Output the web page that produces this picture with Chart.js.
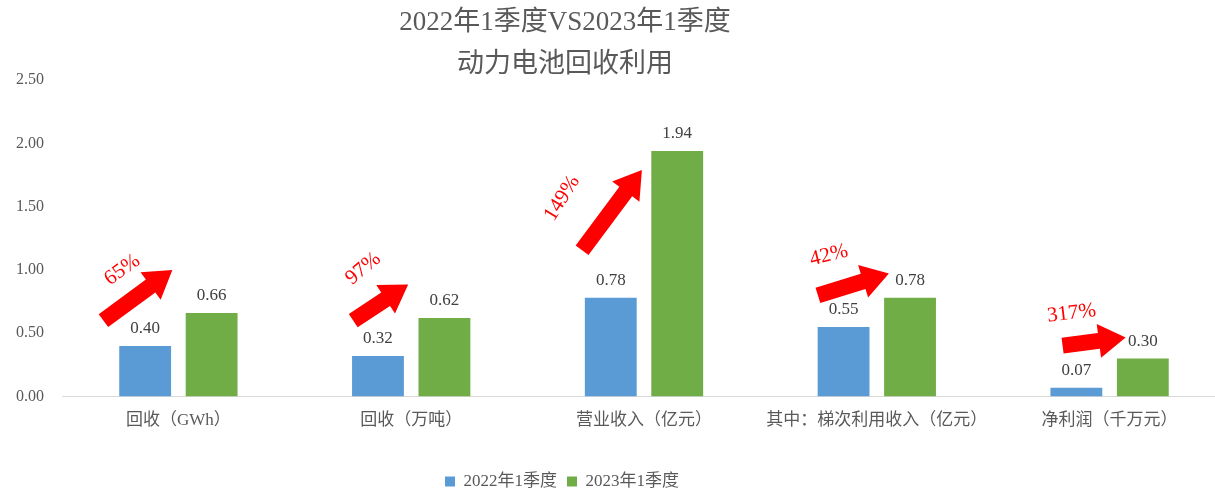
<!DOCTYPE html>
<html>
<head>
<meta charset="utf-8">
<script src="https://cdn.jsdelivr.net/npm/chart.js@4"></script>
<style>
  html, body { margin: 0; padding: 0; background: #fff; overflow: hidden; }
  /* 元の図は右端が少し切れているので、キャンバスを少し広げて切り取る */
  #wrap { width: 1226px; height: 488px; }
</style>
</head>
<body>
<div id="wrap"><canvas id="recycleChart"></canvas></div>
<script>
// データ
const categories = ['回收（GWh）', '回收（万吨）', '营业收入（亿元）', '其中：梯次利用收入（亿元）', '净利润（千万元）'];
const q1_2022 = [0.40, 0.32, 0.78, 0.55, 0.07];
const q1_2023 = [0.66, 0.62, 1.94, 0.78, 0.30];
const growthLabels = ['65%', '97%', '149%', '42%', '317%'];
const yMin = 0, yMax = 2.5, yStep = 0.5;

// 矢印の位置（カテゴリ幅に対するオフセット, 値）
const arrowFrom = [[-0.322, 0.60], [-0.249, 0.60], [-0.266, 1.155], [-0.253, 0.80], [-0.202, 0.403]];
const arrowTo = [[-0.026, 1.00], [-0.013, 0.886], [-0.009, 1.79], [0.052, 0.973], [0.069, 0.467]];
const growthPos = [[-0.241, 1.00], [-0.206, 1.01], [-0.352, 1.566], [-0.206, 1.115], [-0.163, 0.657]];
const growthAngle = [-36, -40, -58, -14, -7];

const serif = '"Liberation Serif", "Noto Sans CJK SC", serif';
const textGray = '#595959';

// タイトル
const titlePlugin = {
  id: 'titleText',
  afterDraw(chart) {
    const c = chart.ctx;
    c.save();
    c.fillStyle = textGray;
    c.textAlign = 'center';
    c.textBaseline = 'middle';
    c.font = '27px ' + serif;
    c.fillText('2022年1季度VS2023年1季度', 565, 23);
    c.fillText('动力电池回收利用', 565, 65);
    c.restore();
  }
};

// 凡例を少し左へ寄せる
const legendShift = {
  id: 'legendShift',
  afterLayout(chart) {
    chart.legend.left -= 54;
    chart.legend.right -= 54;
  }
};

// 棒の上の数値ラベル
const valueLabelPlugin = {
  id: 'valueLabels',
  afterDatasetsDraw(chart) {
    const c = chart.ctx;
    c.save();
    c.fillStyle = '#404040';
    c.textAlign = 'center';
    c.textBaseline = 'bottom';
    c.font = '17px ' + serif;
    chart.data.datasets.forEach((ds, i) => {
      chart.getDatasetMeta(i).data.forEach((bar, j) => {
        c.fillText(ds.data[j].toFixed(2), bar.x, bar.y - 9);
      });
    });
    c.restore();
  }
};

// 赤い矢印と伸び率
const arrowPlugin = {
  id: 'growthArrows',
  afterDatasetsDraw(chart) {
    const c = chart.ctx;
    const xs = chart.scales.x, ys = chart.scales.y;
    const catW = xs.getPixelForValue(1) - xs.getPixelForValue(0);
    const px = (i, p) => [xs.getPixelForValue(i) + p[0] * catW, ys.getPixelForValue(p[1])];
    c.save();
    c.fillStyle = '#ff0000';
    growthLabels.forEach((lbl, i) => {
      const [x0, y0] = px(i, arrowFrom[i]);
      const [x1, y1] = px(i, arrowTo[i]);
      const ang = Math.atan2(y1 - y0, x1 - x0);
      const len = Math.hypot(x1 - x0, y1 - y0);
      const shaft = 8, head = 17, headLen = 27;
      c.save();
      c.translate(x0, y0);
      c.rotate(ang);
      c.beginPath();
      c.moveTo(0, -shaft);
      c.lineTo(len - headLen, -shaft);
      c.lineTo(len - headLen, -head);
      c.lineTo(len, 0);
      c.lineTo(len - headLen, head);
      c.lineTo(len - headLen, shaft);
      c.lineTo(0, shaft);
      c.closePath();
      c.fill();
      c.restore();

      // 伸び率ラベル
      const [lx, ly] = px(i, growthPos[i]);
      c.save();
      c.translate(lx, ly);
      c.rotate(growthAngle[i] * Math.PI / 180);
      c.font = '21px ' + serif;
      c.textAlign = 'center';
      c.textBaseline = 'middle';
      c.fillText(lbl, 0, 0);
      c.restore();
    });
    c.restore();
  }
};

const ctx = document.getElementById('recycleChart');
const recycleChart = new Chart(ctx, {
  type: 'bar',
  data: {
    labels: categories,
    datasets: [{
      label: '2022年1季度',
      data: q1_2022,
      backgroundColor: '#5b9bd5',
      categoryPercentage: 0.571,
      barPercentage: 0.78
    }, {
      label: '2023年1季度',
      data: q1_2023,
      backgroundColor: '#70ad47',
      categoryPercentage: 0.571,
      barPercentage: 0.78
    }]
  },
  options: {
    responsive: true,
    maintainAspectRatio: false,
    animation: false,
    layout: {
      padding: { top: 80, left: 6, right: 0, bottom: -12 }
    },
    plugins: {
      title: { display: false },
      tooltip: { enabled: false },
      legend: {
        position: 'bottom',
        labels: {
          boxWidth: 10,
          boxHeight: 10,
          color: textGray,
          padding: 10,
          font: { family: serif, size: 17 }
        }
      }
    },
    scales: {
      x: {
        grid: { display: false },
        border: { display: true, color: '#d9d9d9', width: 1 },
        ticks: {
          color: textGray,
          padding: 6,
          maxRotation: 0,
          font: { family: serif, size: 17 }
        },
        afterFit(scale) {
          scale.height += 26;
        }
      },
      y: {
        min: yMin,
        max: yMax,
        grid: { display: false },
        border: { display: false },
        ticks: {
          stepSize: yStep,
          color: textGray,
          padding: 10,
          font: { family: serif, size: 16 },
          callback: v => v.toFixed(2)
        }
      }
    }
  },
  plugins: [titlePlugin, legendShift, valueLabelPlugin, arrowPlugin]
});
</script>
</body>
</html>
